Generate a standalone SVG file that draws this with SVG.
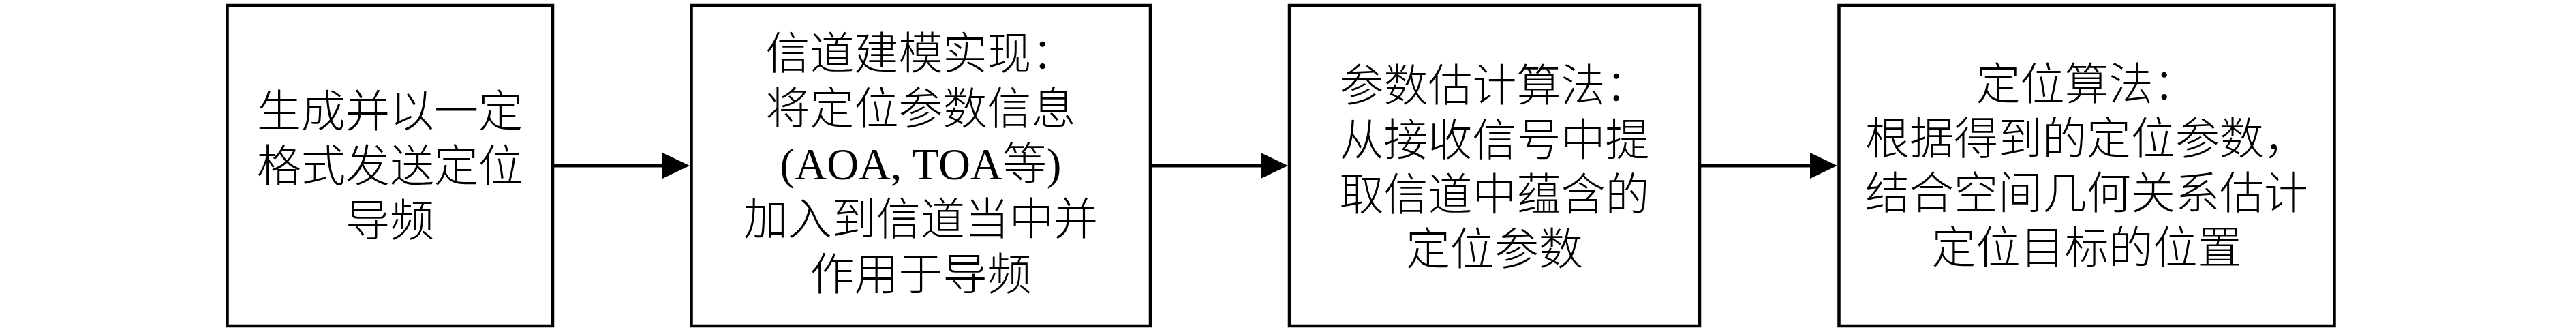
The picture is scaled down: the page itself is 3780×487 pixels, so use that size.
<svg xmlns="http://www.w3.org/2000/svg" width="3780" height="487" viewBox="0 0 3780 487">
<style>
.box{fill:#fff;stroke:#000;stroke-width:4.5}
.t{font-family:"Liberation Serif","Noto Sans CJK SC",serif;font-size:65px;fill:#000;text-anchor:middle;font-weight:300}
.c{stroke:#000;stroke-width:5;fill:none}
</style>
<defs>
<marker id="ah" viewBox="0 0 40 40" markerWidth="40" markerHeight="40" refX="20" refY="20" orient="auto" markerUnits="userSpaceOnUse">
<path d="M0,1 L40,20 L0,39 z" fill="#000"/>
</marker>
</defs>
<rect width="3780" height="487" fill="#fff"/>
<g id="connectors">
<line class="c" x1="813" y1="243" x2="992" y2="243" marker-end="url(#ah)"/>
<line class="c" x1="1690" y1="243" x2="1870" y2="243" marker-end="url(#ah)"/>
<line class="c" x1="2496" y1="243" x2="2676" y2="243" marker-end="url(#ah)"/>
</g>
<g id="node1">
<rect class="box" x="333.5" y="8" width="477.5" height="470"/>
<text class="t" x="572" y="186">生成并以一定</text>
<text class="t" x="572" y="266">格式发送定位</text>
<text class="t" x="572" y="346">导频</text>
</g>
<g id="node2">
<rect class="box" x="1014.5" y="8" width="673.5" height="470"/>
<text class="t" x="1351" y="101">信道建模实现：</text>
<text class="t" x="1351" y="182">将定位参数信息</text>
<text class="t" x="1351" y="263">(AOA, TOA等)</text>
<text class="t" x="1351" y="344">加入到信道当中并</text>
<text class="t" x="1351" y="425">作用于导频</text>
</g>
<g id="node3">
<rect class="box" x="1892" y="8" width="602" height="470"/>
<text class="t" x="2193" y="148">参数估计算法：</text>
<text class="t" x="2193" y="228">从接收信号中提</text>
<text class="t" x="2193" y="308">取信道中蕴含的</text>
<text class="t" x="2193" y="388">定位参数</text>
</g>
<g id="node4">
<rect class="box" x="2698.5" y="8" width="727" height="470"/>
<text class="t" x="3062" y="146">定位算法：</text>
<text class="t" x="3062" y="226">根据得到的定位参数，</text>
<text class="t" x="3062" y="306">结合空间几何关系估计</text>
<text class="t" x="3062" y="386">定位目标的位置</text>
</g>
</svg>
